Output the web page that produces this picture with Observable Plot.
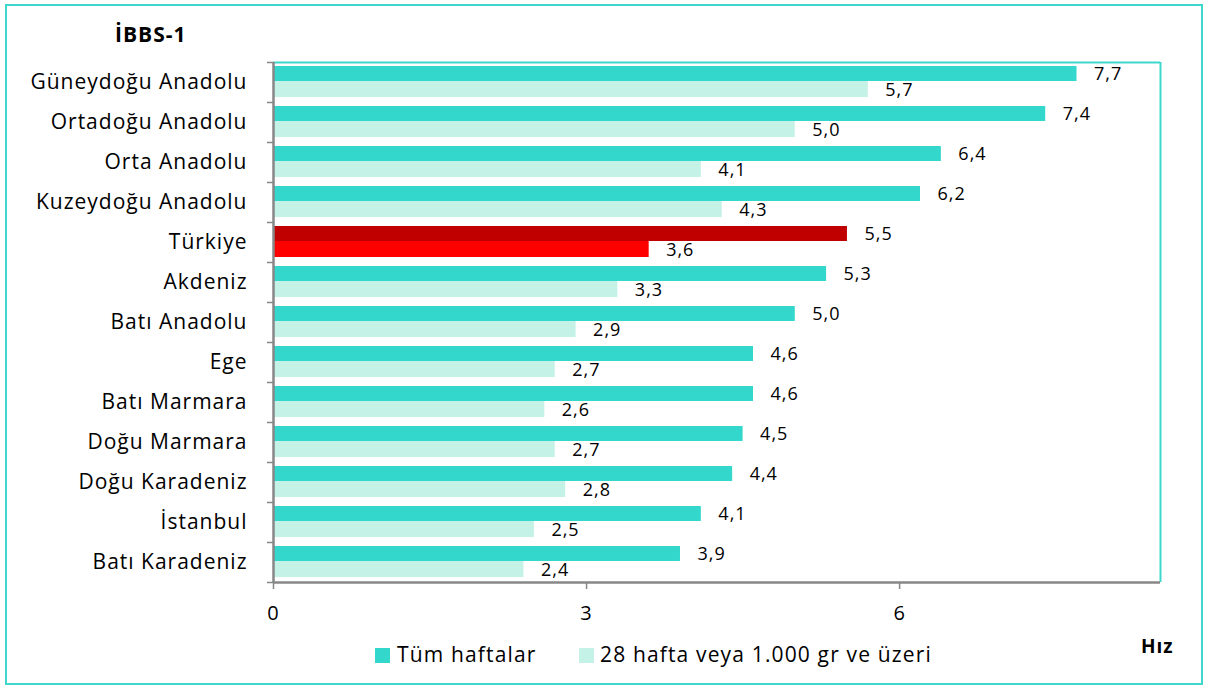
<!DOCTYPE html>
<html><head><meta charset="utf-8">
<script src="https://cdn.jsdelivr.net/npm/d3@7"></script>
<script src="https://cdn.jsdelivr.net/npm/@observablehq/plot@0.6"></script>
<style>
body{margin:0;background:#fff;font-family:"Open Sans",sans-serif;color:#000;}
#wrap{position:relative;width:1208px;height:688px;overflow:hidden;}
#border{position:absolute;left:5px;top:4px;width:1198px;height:681px;border:2px solid #3FD7CB;box-sizing:border-box;}
#chart{position:absolute;left:0;top:0;}
#title{position:absolute;left:115px;top:24px;font-weight:bold;font-size:21px;line-height:1;letter-spacing:1px;}
#hiz{position:absolute;left:1141px;top:637px;font-weight:bold;font-size:19px;line-height:1;letter-spacing:1px;}
.lg{position:absolute;top:644px;font-size:21px;line-height:1;letter-spacing:1.15px;white-space:nowrap;}
.sw{position:absolute;top:648px;width:15px;height:15px;}
</style></head>
<body><div id="wrap">
<div id="border"></div>
<div id="chart"></div>
<div id="title"></div>
<div id="hiz"></div>
<div class="sw" id="sw1"></div><div class="lg" id="lg1"></div>
<div class="sw" id="sw2"></div><div class="lg" id="lg2"></div>
</div>
<script>
const titleText = "İBBS-1";
const axisTitle = "Hız";
const regions = ["Güneydoğu Anadolu","Ortadoğu Anadolu","Orta Anadolu","Kuzeydoğu Anadolu","Türkiye","Akdeniz","Batı Anadolu","Ege","Batı Marmara","Doğu Marmara","Doğu Karadeniz","İstanbul","Batı Karadeniz"];
const allWeeks = [7.7,7.4,6.4,6.2,5.5,5.3,5.0,4.6,4.6,4.5,4.4,4.1,3.9];
const over28 = [5.7,5.0,4.1,4.3,3.6,3.3,2.9,2.7,2.6,2.7,2.8,2.5,2.4];
const seriesNames = ["Tüm haftalar","28 hafta veya 1.000 gr ve üzeri"];
const xTicks = [0,3,6];
const xMax = 8.5;
const highlight = "Türkiye";

const C_ALL = "#33D7CB", C_OVER = "#C5F2E7", C_HI_ALL = "#C00000", C_HI_OVER = "#FF0000";
const C_AXIS = "#878787", C_FRAME = "#3FD7CB";
const fmt = v => v.toFixed(1).replace(".", ",");

const rows = regions.map((r,i)=>({region:r, all:allWeeks[i], over:over28[i]}));

const chart = Plot.plot({
  width:1208, height:632,
  marginTop:62, marginLeft:273, marginRight:48, marginBottom:50,
  style:{fontFamily:"Open Sans, sans-serif", background:"transparent", overflow:"visible", letterSpacing:"1px"},
  x:{domain:[0,xMax], label:null},
  y:{domain:regions, padding:0, label:null},
  color:{type:"identity"},
  marks:[
    Plot.ruleY([regions[0]], {dy:-20, stroke:C_FRAME, strokeWidth:2}),
    Plot.ruleX([xMax], {stroke:C_FRAME, strokeWidth:2}),
    Plot.barX(rows, {x:"all", y:"region", fill:d=>d.region===highlight?C_HI_ALL:C_ALL, insetTop:4, insetBottom:21}),
    Plot.barX(rows, {x:"over", y:"region", fill:d=>d.region===highlight?C_HI_OVER:C_OVER, insetTop:19, insetBottom:5}),
    Plot.text(rows, {x:"all", y:"region", text:d=>fmt(d.all), dx:17, dy:-8, textAnchor:"start", fontSize:18, fill:"#000"}),
    Plot.text(rows, {x:"over", y:"region", text:d=>fmt(d.over), dx:17, dy:8, textAnchor:"start", fontSize:18, fill:"#000"}),
    Plot.ruleX([0], {stroke:C_AXIS, strokeWidth:2.5}),
    Plot.ruleY([regions[regions.length-1]], {dy:20, stroke:C_AXIS, strokeWidth:2.5}),
    Plot.axisY({tickSize:6, dy:-20, tickFormat:()=>"", stroke:C_AXIS, strokeWidth:1.5}),
    Plot.axisY([regions[regions.length-1]], {tickSize:6, dy:20, tickFormat:()=>"", stroke:C_AXIS, strokeWidth:1.5}),
    Plot.axisY({tickSize:0, tickPadding:26, fontSize:21, fill:"#000"}),
    Plot.axisX(xTicks, {tickSize:7, tickPadding:16, fontSize:20, stroke:C_AXIS, strokeWidth:1.5, fill:"#000"})
  ]
});
document.getElementById("chart").appendChild(chart);
document.getElementById("title").textContent = titleText;
document.getElementById("hiz").textContent = axisTitle;
const sw1 = document.getElementById("sw1"), sw2 = document.getElementById("sw2");
sw1.style.left = "375px"; sw1.style.background = C_ALL;
sw2.style.left = "579px"; sw2.style.background = C_OVER;
const lg1 = document.getElementById("lg1"), lg2 = document.getElementById("lg2");
lg1.style.left = "397px"; lg1.textContent = seriesNames[0];
lg2.style.left = "600px"; lg2.textContent = seriesNames[1];
</script>
</body></html>
